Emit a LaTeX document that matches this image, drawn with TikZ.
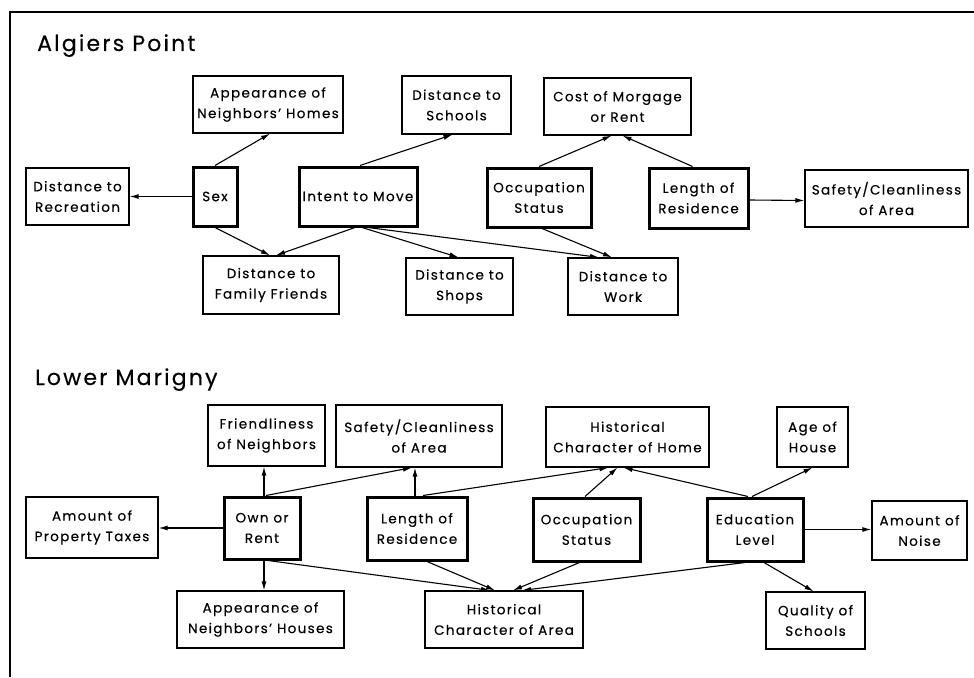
\documentclass[tikz,border=0pt]{standalone}
\usepackage{fontspec}
\setmainfont{Poppins}[LetterSpace=10,FakeBold=0.35]
\usetikzlibrary{arrows.meta}
\begin{document}
\begin{tikzpicture}[x=1pt,y=-1pt,
 box/.style={draw, line width=1.2pt, align=center, inner sep=0pt, font=\fontsize{13.5}{20.5}\selectfont},
 key/.style={box, line width=3pt},
 arr/.style={line width=1.1pt, -{Latex[length=9pt,width=5pt]}},
 ttl/.style={anchor=base west, font=\fontsize{22}{26}\selectfont, inner sep=0pt}]
\useasboundingbox (0,0) rectangle (974,677);
% frame
\coordinate (fa) at (10,677);
\coordinate (fb) at (10,12);
\coordinate (fc) at (974,12);
\draw[line width=1.1pt] (fa) -- (fb) -- (fc);
% titles
\node[ttl] (t1) at (37,51) {Algiers Point};
\node[ttl] (t2) at (35,385) {Lower Marigny};
% ---------- Algiers Point ----------
\node[box, minimum width=150pt, minimum height=57pt] (app1) at (268,104.5) {Appearance of\\Neighbors' Homes};
\node[box, minimum width=109pt, minimum height=58pt] (sch) at (456.5,105) {Distance to\\Schools};
\node[box, minimum width=147pt, minimum height=57pt] (cost) at (617.5,106.5) {Cost of Morgage\\or Rent};
\node[box, minimum width=103pt, minimum height=57pt] (rec) at (77.5,196.5) {Distance to\\Recreation};
\node[key, minimum width=44pt, minimum height=59pt] (sex) at (215,196.5) {Sex};
\node[key, minimum width=118pt, minimum height=59pt] (intent) at (358,196.5) {Intent to Move};
\node[key, minimum width=104pt, minimum height=59pt] (occ1) at (539,197.5) {Occupation\\Status};
\node[key, minimum width=99pt, minimum height=60pt] (len1) at (698.5,198) {Length of\\Residence};
\node[box, minimum width=163pt, minimum height=57pt] (saf1) at (886.5,198.5) {Safety/Cleanliness\\of Area};
\node[box, minimum width=136pt, minimum height=58pt] (fam) at (271,285) {Distance to\\Family Friends};
\node[box, minimum width=107pt, minimum height=57pt] (shops) at (459.5,286.5) {Distance to\\Shops};
\node[box, minimum width=110pt, minimum height=57pt] (work) at (623,286.5) {Distance to\\Work};
\draw[arr] (sex.west) -- (rec.east);
\draw[arr] (sex.north) -- ([xshift=2pt]app1.south);
\draw[arr] ([xshift=2pt]intent.north) -- ([xshift=-4pt]sch.south);
\draw[arr] (sex.south) -- ([xshift=-1pt]fam.south |- fam.north);
\draw[arr] ([xshift=-3pt]intent.south) -- ([xshift=5pt]fam.north);
\draw[arr] ([xshift=4pt]intent.south) -- ([xshift=-1pt]shops.north);
\draw[arr] ([xshift=10pt]intent.south) -- ([xshift=-24pt]work.north);
\draw[arr] ([xshift=3pt]occ1.south) -- ([xshift=-11pt]work.north);
\draw[arr] (occ1.north) -- ([xshift=-6pt]cost.south);
\draw[arr] ([xshift=-6pt]len1.north) -- ([xshift=5pt]cost.south);
\draw[arr] ([yshift=-2pt]len1.east) -- ([yshift=-2pt]saf1.west);
% ---------- Lower Marigny ----------
\node[box, minimum width=117pt, minimum height=61pt] (friend) at (266.5,435.5) {Friendliness\\of Neighbors};
\node[box, minimum width=166pt, minimum height=62pt] (saf2) at (419,436) {Safety/Cleanliness\\of Area};
\node[box, minimum width=163pt, minimum height=60pt] (hhome) at (627.5,437) {Historical\\Character of Home};
\node[box, minimum width=71pt, minimum height=60pt] (age) at (812.5,437) {Age of\\House};
\node[box, minimum width=132pt, minimum height=61pt] (tax) at (92,527.5) {Amount of\\Property Taxes};
\node[key, minimum width=76pt, minimum height=62pt] (own) at (262,528) {Own or\\Rent};
\node[key, minimum width=100pt, minimum height=63pt] (len2) at (417,528.5) {Length of\\Residence};
\node[key, minimum width=107pt, minimum height=63pt] (occ2) at (586.5,529.5) {Occupation\\Status};
\node[key, minimum width=96pt, minimum height=63pt] (edu) at (755,529.5) {Education\\Level};
\node[box, minimum width=95pt, minimum height=59pt] (noise) at (919.5,530.5) {Amount of\\Noise};
\node[box, minimum width=167pt, minimum height=57pt] (appH) at (260.5,619.5) {Appearance of\\Neighbors' Houses};
\node[box, minimum width=158pt, minimum height=57pt] (harea) at (504,619.5) {Historical\\Character of Area};
\node[box, minimum width=99pt, minimum height=57pt] (qual) at (815.5,620.5) {Quality of\\Schools};
\draw[arr] (own.west) -- (own.west -| tax.east);
\draw[arr] ([xshift=2pt]own.north) -- ([xshift=2pt]own.north |- friend.south);
\draw[arr] ([xshift=4pt]own.north) -- ([xshift=-7pt]saf2.south);
\draw[arr] ([xshift=-2pt]len2.north) -- ([xshift=-2pt]len2.north |- saf2.south);
\draw[arr] ([xshift=6pt]len2.north) -- ([xshift=-19pt]hhome.south);
\draw[arr] ([xshift=-1.5pt]occ2.north) -- ([xshift=-10pt]hhome.south);
\draw[arr] ([xshift=-7pt]edu.north) -- ([xshift=-4pt]hhome.south);
\draw[arr] ([xshift=-3pt]edu.north) -- (age.south);
\draw[arr] (edu.east) -- (edu.east -| noise.west);
\draw[arr] ([xshift=9pt]edu.south) -- ([xshift=-2pt]qual.north);
\draw[arr] ([xshift=2pt]own.south) -- ([xshift=2pt]own.south |- appH.north);
\draw[arr] ([xshift=6pt]own.south) -- ([xshift=-14pt]harea.north);
\draw[arr] ([xshift=10pt]len2.south) -- ([xshift=-9pt]harea.north);
\draw[arr] ([xshift=-7pt]occ2.south) -- ([xshift=9pt]harea.north);
\draw[arr] ([xshift=-10pt]edu.south) -- ([xshift=18pt]harea.north);
\end{tikzpicture}
\end{document}
